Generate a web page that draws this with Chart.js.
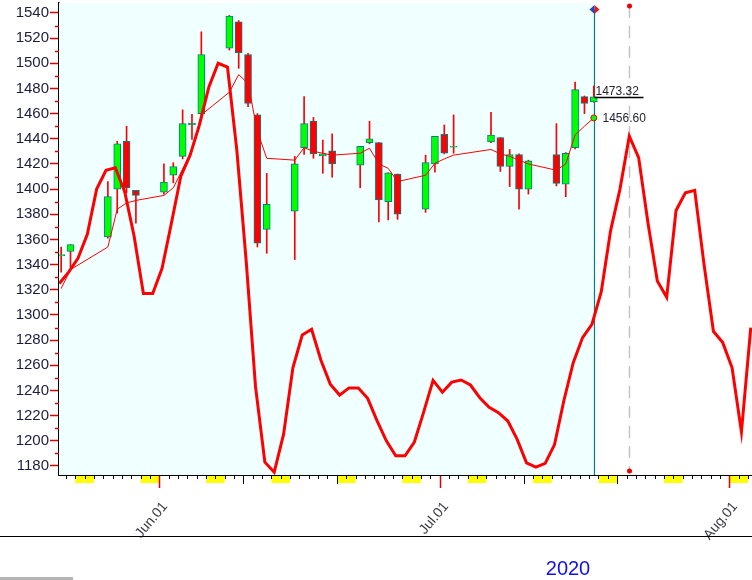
<!DOCTYPE html>
<html>
<head>
<meta charset="utf-8">
<script src="https://cdn.jsdelivr.net/npm/chart.js@4.4.0/dist/chart.umd.min.js"></script>
<style>
  html, body { margin: 0; padding: 0; background: #fff; }
</style>
</head>
<body>
<canvas id="price_chart" width="752" height="580"></canvas>
<script>
// trading days and OHLC
const tradeDates = [
  "2020-05-21", "2020-05-22", "2020-05-26", "2020-05-27", "2020-05-28", "2020-05-29",
  "2020-06-01", "2020-06-02", "2020-06-03", "2020-06-04", "2020-06-05",
  "2020-06-08", "2020-06-09", "2020-06-10", "2020-06-11", "2020-06-12",
  "2020-06-15", "2020-06-16", "2020-06-17", "2020-06-18", "2020-06-19",
  "2020-06-22", "2020-06-23", "2020-06-24", "2020-06-25", "2020-06-26",
  "2020-06-29", "2020-06-30", "2020-07-01", "2020-07-02",
  "2020-07-06", "2020-07-07", "2020-07-08", "2020-07-09", "2020-07-10",
  "2020-07-13", "2020-07-14", "2020-07-15", "2020-07-16", "2020-07-17",
];
const openP = [
  1347, 1350.5, 1362, 1400, 1438, 1399,
  1397.5, 1411, 1426, 1451, 1460,
  1512, 1533, 1507, 1459, 1368,
  1382.5, 1433, 1454, 1426.3, 1430.5,
  1419, 1437, 1437, 1390, 1412,
  1384, 1420, 1443.5, 1433.3,
  1437.5, 1441, 1418, 1427.5, 1400,
  1427.5, 1404, 1433, 1473.5, 1469.3,
];
const highP = [
  1354, 1356, 1406, 1438, 1450, 1399,
  1420, 1421, 1463, 1459.5, 1525,
  1538, 1534, 1508, 1460, 1412.5,
  1426, 1473.5, 1457, 1439, 1444,
  1434, 1454, 1437, 1413, 1412,
  1427, 1442, 1451, 1459,
  1461, 1441, 1431.5, 1428, 1423,
  1452, 1429, 1485, 1474, 1482,
];
const lowP = [
  1334, 1338, 1361, 1381, 1397, 1373,
  1396, 1405, 1424, 1439.5, 1459,
  1510.5, 1496, 1465.5, 1354, 1349,
  1344, 1427.5, 1424.5, 1412.5, 1409.5,
  1401, 1436, 1374, 1375.5, 1376,
  1381.5, 1413.5, 1428, 1428.5,
  1437, 1414, 1402, 1384, 1396,
  1402.5, 1394, 1432, 1460, 1469,
];
const closeP = [
  1348, 1356, 1394, 1436, 1401, 1395,
  1405.5, 1418, 1452, 1452.5, 1507,
  1537.5, 1508.5, 1468, 1357, 1388,
  1420, 1452, 1428, 1428, 1420,
  1434, 1440, 1391.5, 1413, 1380,
  1421, 1442, 1428.5, 1434,
  1443, 1418, 1427.5, 1400, 1422.5,
  1404.5, 1428.5, 1479, 1468, 1473.32,
];
const maVals = [
  1321, 1336, 1354, 1384, 1389, 1391,
  1395, 1401, 1416, 1431, 1459,
  1477, 1491, 1484, 1446, 1424.5,
  1423, 1433, 1430, 1428.5, 1427,
  1428.5, 1432.5, 1420, 1416.5, 1406,
  1411, 1420.5, 1424, 1427,
  1431.5, 1428, 1426, 1423, 1420,
  1415, 1420, 1443, 1450, 1456.6,
];

// cycle line, one value per calendar day starting at cycleStart
const cycleStart = "2020-05-21";
const cycleVals = [
  1325, 1334, 1345, 1364, 1400, 1415, 1417, 1398, 1363, 1317, 1317,
  1337, 1373, 1410, 1427, 1451, 1481, 1500, 1497, 1431, 1343, 1243,
  1183, 1175, 1205, 1258, 1284, 1288.6, 1264, 1245, 1236.3, 1242, 1242,
  1233.7, 1216, 1200, 1188, 1188, 1199, 1223, 1248, 1238.6, 1246.6, 1248.3,
  1244.3, 1234.2, 1226.6, 1222.3, 1215.7, 1201.1, 1182.5, 1179, 1182, 1197,
  1232, 1262, 1282, 1292.5, 1318.4, 1367, 1400, 1442, 1425, 1373, 1327,
  1314, 1383, 1397, 1399, 1340, 1287, 1278, 1258, 1207, 1290,
];
const markDate = "2020-07-21";

const yTickVals = [1180, 1200, 1220, 1240, 1260, 1280, 1300, 1320, 1340, 1360,
  1380, 1400, 1420, 1440, 1460, 1480, 1500, 1520, 1540];
const monthNames = ["Jan", "Feb", "Mar", "Apr", "May", "Jun", "Jul", "Aug", "Sep", "Oct", "Nov", "Dec"];

const DAY = 86400000;
const origin = Date.parse("2020-06-01");
const dayOf = (s) => (Date.parse(s) - origin) / DAY;
const last = tradeDates.length - 1;

const bodies = tradeDates.map((d, i) => ({ x: dayOf(d) + 0.5, y: [openP[i], closeP[i]] }));
const wicks = tradeDates.map((d, i) => ({ x: dayOf(d) + 0.5, y: [lowP[i], highP[i]] }));
const maLine = tradeDates.map((d, i) => ({ x: dayOf(d) + 0.5, y: maVals[i] }));
const cycleLine = cycleVals.map((v, i) => ({ x: dayOf(cycleStart) + i + 0.3, y: v }));

Chart.defaults.font.family = '"Liberation Sans", Arial, sans-serif';

const decor = {
  id: "decor",
  beforeDatasetsDraw(chart) {
    const { ctx, chartArea: a, scales } = chart;
    const xs = scales.x;
    const tealX = Math.round(xs.getPixelForValue(dayOf(tradeDates[last]) + 0.5)) + 0.5;
    ctx.save();
    ctx.fillStyle = "#f0ffff";
    ctx.fillRect(a.left, a.top, tealX - a.left, a.bottom - a.top);
    // dashed marker
    const mx = Math.round(xs.getPixelForValue(dayOf(markDate) + 0.3)) + 0.5;
    ctx.strokeStyle = "#c4c4c4";
    ctx.lineWidth = 1.5;
    ctx.setLineDash([12, 8]);
    ctx.beginPath();
    ctx.moveTo(mx, 6);
    ctx.lineTo(mx, 471);
    ctx.stroke();
    ctx.setLineDash([]);
    // teal line
    ctx.strokeStyle = "#008080";
    ctx.lineWidth = 1.2;
    ctx.beginPath();
    ctx.moveTo(tealX, 9);
    ctx.lineTo(tealX, a.bottom);
    ctx.stroke();
    ctx.restore();
  },
  afterDraw(chart) {
    const { ctx, chartArea: a, scales } = chart;
    const xs = scales.x, ys = scales.y;
    ctx.save();
    // minor y ticks
    ctx.strokeStyle = "#dd0000";
    ctx.lineWidth = 1.5;
    for (let i = 0; i < yTickVals.length; i++) {
      const v = yTickVals[i] + 10;
      if (v > ys.max) continue;
      const y = Math.round(ys.getPixelForValue(v)) + 0.5;
      ctx.beginPath();
      ctx.moveTo(a.left - 4, y);
      ctx.lineTo(a.left, y);
      ctx.stroke();
    }
    // x axis: weekends, day ticks, month labels
    const d0 = Math.floor(xs.min), d1 = Math.ceil(xs.max);
    for (let d = d0; d <= d1; d++) {
      const dt = new Date(origin + d * DAY);
      const wd = dt.getUTCDay();
      if (wd === 0 || wd === 6) {
        const l = Math.max(a.left, xs.getPixelForValue(d));
        const r = Math.min(a.right, xs.getPixelForValue(d + 1));
        if (r > l) {
          ctx.fillStyle = "#ffff00";
          ctx.fillRect(l, a.bottom, r - l, 8);
        }
      }
    }
    for (let d = d0; d <= d1; d++) {
      const x = Math.round(xs.getPixelForValue(d)) + 0.5;
      if (x < a.left || x > a.right) continue;
      const dt = new Date(origin + d * DAY);
      const day = dt.getUTCDate();
      let len = 4, col = "#000", w = 1;
      if (day === 1) { len = 13; col = "#dd0000"; w = 1.5; }
      else if (day === 10 || day === 20) { len = 9; }
      ctx.strokeStyle = col;
      ctx.lineWidth = w;
      ctx.beginPath();
      ctx.moveTo(x, a.bottom);
      ctx.lineTo(x, a.bottom + len);
      ctx.stroke();
      if (day === 1) {
        ctx.save();
        ctx.translate(x + 5.5, a.bottom + 29);
        ctx.rotate(-50 * Math.PI / 180);
        ctx.font = '14px "Liberation Sans", Arial, sans-serif';
        ctx.fillStyle = "#3a3a48";
        ctx.textAlign = "right";
        ctx.textBaseline = "middle";
        ctx.fillText(monthNames[dt.getUTCMonth()] + ".01", 0, 0);
        ctx.restore();
      }
    }
    ctx.strokeStyle = "#000";
    ctx.lineWidth = 1.2;
    ctx.beginPath();
    ctx.moveTo(a.left, a.bottom + 0.5);
    ctx.lineTo(a.right, a.bottom + 0.5);
    ctx.stroke();
    // separator line and year
    ctx.beginPath();
    ctx.moveTo(0, 536.5);
    ctx.lineTo(752, 536.5);
    ctx.stroke();
    ctx.font = '20px "Liberation Sans", Arial, sans-serif';
    ctx.fillStyle = "#1010f0";
    ctx.textAlign = "center";
    ctx.textBaseline = "alphabetic";
    ctx.fillText(String(new Date(Date.parse(tradeDates[last])).getUTCFullYear()), 568, 575);
    ctx.fillStyle = "#b4b4b4";
    ctx.fillRect(0, 577, 73, 3);
    // last price line and labels
    const tealX = Math.round(xs.getPixelForValue(dayOf(tradeDates[last]) + 0.5)) + 0.5;
    const py = Math.round(ys.getPixelForValue(closeP[last])) + 0.5;
    ctx.strokeStyle = "#000";
    ctx.lineWidth = 1.5;
    ctx.beginPath();
    ctx.moveTo(tealX, py);
    ctx.lineTo(tealX + 49, py);
    ctx.stroke();
    ctx.font = '12px "Liberation Sans", Arial, sans-serif';
    ctx.fillStyle = "#252535";
    ctx.textAlign = "left";
    ctx.textBaseline = "alphabetic";
    ctx.fillText(closeP[last].toFixed(2), tealX + 1, py - 3);
    ctx.textBaseline = "middle";
    ctx.fillText(maVals[last].toFixed(2), tealX + 8, ys.getPixelForValue(maVals[last]) + 1);
    // diamond on the teal line
    ctx.fillStyle = "#1f48c8";
    ctx.beginPath();
    ctx.moveTo(tealX, 5); ctx.lineTo(tealX - 5, 9.5); ctx.lineTo(tealX, 14); ctx.closePath();
    ctx.fill();
    ctx.fillStyle = "#e81818";
    ctx.beginPath();
    ctx.moveTo(tealX, 5); ctx.lineTo(tealX + 5, 9.5); ctx.lineTo(tealX, 14); ctx.closePath();
    ctx.fill();
    // red dots on dashed marker
    const mx = Math.round(xs.getPixelForValue(dayOf(markDate) + 0.3)) + 0.5;
    ctx.fillStyle = "#ee0000";
    [6, 471].forEach((y) => {
      ctx.beginPath();
      ctx.arc(mx, y, 2.5, 0, Math.PI * 2);
      ctx.fill();
    });
    ctx.restore();
  },
};

new Chart(document.getElementById("price_chart"), {
  type: "bar",
  data: {
    datasets: [
      {
        type: "line",
        data: cycleLine,
        borderColor: "#ff0000",
        borderWidth: 3,
        pointRadius: 0,
        tension: 0,
        order: 0,
      },
      {
        type: "line",
        data: maLine,
        borderColor: "#ff0000",
        borderWidth: 1,
        tension: 0,
        pointRadius: (c) => (c.dataIndex === last ? 3 : 0),
        pointBackgroundColor: "#00ff00",
        pointBorderColor: "#ff0000",
        pointBorderWidth: 1,
        order: 1,
      },
      {
        data: bodies,
        backgroundColor: closeP.map((c, i) => (c >= openP[i] ? "#00ff00" : "#ff0000")),
        borderColor: "#008080",
        borderWidth: 1,
        borderSkipped: false,
        barThickness: 7,
        grouped: false,
        order: 2,
      },
      {
        data: wicks,
        backgroundColor: "#ff0000",
        borderWidth: 0,
        barThickness: 1,
        grouped: false,
        order: 3,
      },
    ],
  },
  options: {
    responsive: false,
    animation: false,
    devicePixelRatio: 1,
    layout: { autoPadding: false, padding: { top: 3, right: 0, bottom: 105, left: 0 } },
    plugins: { legend: { display: false }, tooltip: { enabled: false } },
    scales: {
      x: { type: "linear", min: -10.73, max: 63.43, offset: false, display: false },
      y: {
        min: 1172.8,
        max: 1547.9,
        afterFit: (s) => { s.width = 59; s.paddingTop = 0; s.paddingBottom = 0; },
        afterBuildTicks: (s) => { s.ticks = yTickVals.map((v) => ({ value: v })); },
        grid: { drawOnChartArea: false, tickLength: 9, tickColor: "#dd0000", tickWidth: 1.5 },
        border: { color: "#000", width: 1.5 },
        ticks: { padding: 1, color: "#1c1c40", font: { size: 15 }, callback: (v) => String(v) },
      },
    },
  },
  plugins: [decor],
});
</script>
</body>
</html>
